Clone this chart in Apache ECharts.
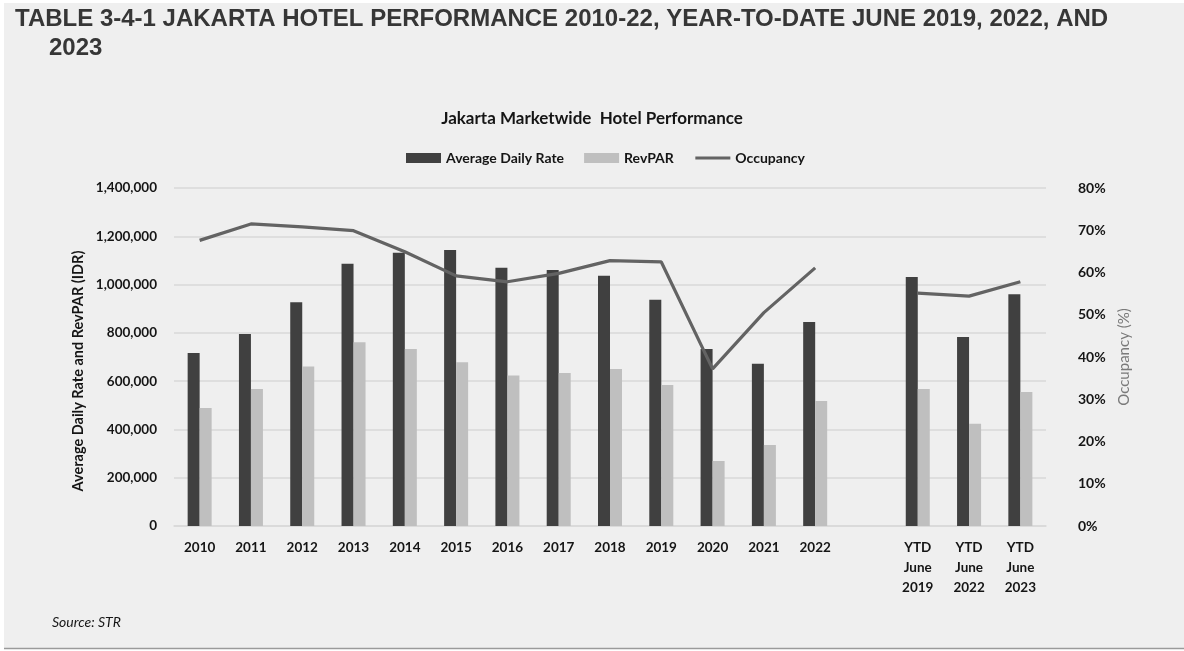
<!DOCTYPE html>
<html>
<head>
<meta charset="utf-8">
<title>Jakarta Hotel Performance</title>
<script src="https://cdn.jsdelivr.net/npm/echarts@6/dist/echarts.min.js"></script>
<style>
  html, body { margin: 0; padding: 0; background: #ffffff; }
  #chart { width: 1184px; height: 651px; }
</style>
</head>
<body>
<div id="chart"></div>
<script>
// Periods on the x axis; the blank entry separates full years from year-to-date figures
const categories = ['2010', '2011', '2012', '2013', '2014', '2015', '2016', '2017', '2018', '2019',
  '2020', '2021', '2022', '', 'YTD\nJune\n2019', 'YTD\nJune\n2022', 'YTD\nJune\n2023'];

// Average Daily Rate (IDR)
const adr = [717000, 795000, 927000, 1086000, 1132000, 1143000, 1070000, 1060000, 1037000, 937000,
  733000, 672000, 845000, null, 1031000, 783000, 960000];

// RevPAR (IDR)
const revpar = [489000, 567000, 661000, 761000, 733000, 678000, 623000, 634000, 650000, 584000,
  269000, 335000, 518000, null, 567000, 424000, 555000];

// Occupancy (%)
const occupancy = [67.6, 71.5, 70.8, 69.9, 64.9, 59.2, 57.8, 59.8, 62.8, 62.5,
  37.2, 50.5, 61.1, null, 55.1, 54.4, 57.8];

const leftTicks = { min: 0, max: 1400000, interval: 200000 };
const rightTicks = { min: 0, max: 80, interval: 10 };

const FONT = 'Lato, "Open Sans", sans-serif';
const INK = '#151515';

const chart = echarts.init(document.getElementById('chart'), null, { renderer: 'canvas' });

chart.setOption({
  backgroundColor: '#efefef',
  animation: false,
  textStyle: { fontFamily: FONT },
  graphic: [
    { type: 'rect', shape: { x: 0, y: 0, width: 1184, height: 3 }, style: { fill: '#ffffff' }, silent: true },
    { type: 'rect', shape: { x: 0, y: 0, width: 4, height: 651 }, style: { fill: '#ffffff' }, silent: true },
    { type: 'rect', shape: { x: 0, y: 648, width: 1184, height: 3 }, style: { fill: '#ffffff' }, silent: true },
    { type: 'line', shape: { x1: 4, y1: 648.5, x2: 1184, y2: 648.5 }, style: { stroke: '#9a9a9a', lineWidth: 1.5 }, silent: true },
    {
      type: 'text', left: 15, top: 7,
      style: {
        text: 'TABLE 3-4-1 JAKARTA HOTEL PERFORMANCE 2010-22, YEAR-TO-DATE JUNE 2019, 2022, AND',
        font: 'bold 24px "Liberation Sans", Arial, sans-serif', fill: '#363636'
      }
    },
    {
      type: 'text', left: 49, top: 36,
      style: { text: '2023', font: 'bold 24px "Liberation Sans", Arial, sans-serif', fill: '#363636' }
    },
    {
      // left axis title, rotated to read bottom-to-top
      type: 'text', x: 78, y: 371, rotation: Math.PI / 2,
      style: {
        text: 'Average Daily Rate and RevPAR (IDR)',
        font: 'bold 14.5px ' + FONT, fill: INK,
        align: 'center', verticalAlign: 'middle'
      }
    },
    {
      type: 'text', left: 52, top: 615,
      style: { text: 'Source: STR', font: 'italic 14px ' + FONT, fill: INK }
    }
  ],
  title: {
    text: 'Jakarta Marketwide  Hotel Performance',
    left: 'center', top: 105,
    textStyle: { fontFamily: FONT, fontSize: 17, fontWeight: 'bold', color: INK }
  },
  legend: {
    top: 146, left: 401,
    itemWidth: 35, itemHeight: 10, itemGap: 20,
    textStyle: { fontFamily: FONT, fontSize: 14, fontWeight: 'bold', color: INK },
    data: [
      { name: 'Average Daily Rate', icon: 'rect' },
      { name: 'RevPAR', icon: 'rect' },
      {
        name: 'Occupancy',
        itemStyle: { color: 'rgba(0,0,0,0)', borderWidth: 0 },
        lineStyle: { color: '#636363', width: 3 }
      }
    ]
  },
  grid: { left: 174, right: 138, top: 188, bottom: 125, containLabel: false },
  xAxis: {
    type: 'category',
    data: categories,
    axisLine: { show: true, lineStyle: { color: '#d9d9d9', width: 1.5 } },
    axisTick: { show: false },
    axisLabel: {
      interval: 0, margin: 12, lineHeight: 20,
      fontFamily: FONT, fontSize: 13.5, fontWeight: 'bold', color: INK
    }
  },
  yAxis: [
    {
      type: 'value',
      min: leftTicks.min, max: leftTicks.max, interval: leftTicks.interval,
      axisLine: { show: false },
      axisTick: { show: false },
      splitLine: { lineStyle: { color: '#d9d9d9', width: 1.5 } },
      axisLabel: {
        margin: 17,
        fontFamily: FONT, fontSize: 13.5, fontWeight: 'bold', color: INK,
        formatter: v => v.toLocaleString('en-US')
      }
    },
    {
      type: 'value',
      min: rightTicks.min, max: rightTicks.max, interval: rightTicks.interval,
      name: 'Occupancy (%)',
      nameLocation: 'middle', nameGap: 68,
      nameTextStyle: { fontFamily: FONT, fontSize: 15, color: '#7a7a7a' },
      axisLine: { show: false },
      axisTick: { show: false },
      splitLine: { show: false },
      axisLabel: {
        margin: 32,
        fontFamily: FONT, fontSize: 14, fontWeight: 'bold', color: INK,
        formatter: '{value}%'
      }
    }
  ],
  series: [
    {
      name: 'Average Daily Rate', type: 'bar',
      data: adr, barWidth: 12, barGap: '0%',
      itemStyle: { color: '#404040' }
    },
    {
      name: 'RevPAR', type: 'bar',
      data: revpar, barWidth: 12, barGap: '0%',
      itemStyle: { color: '#bfbfbf' }
    },
    {
      name: 'Occupancy', type: 'line', yAxisIndex: 1,
      data: occupancy, symbol: 'none', connectNulls: false,
      lineStyle: { color: '#636363', width: 3.2 },
      itemStyle: { color: '#636363' }
    }
  ]
});
</script>
</body>
</html>
